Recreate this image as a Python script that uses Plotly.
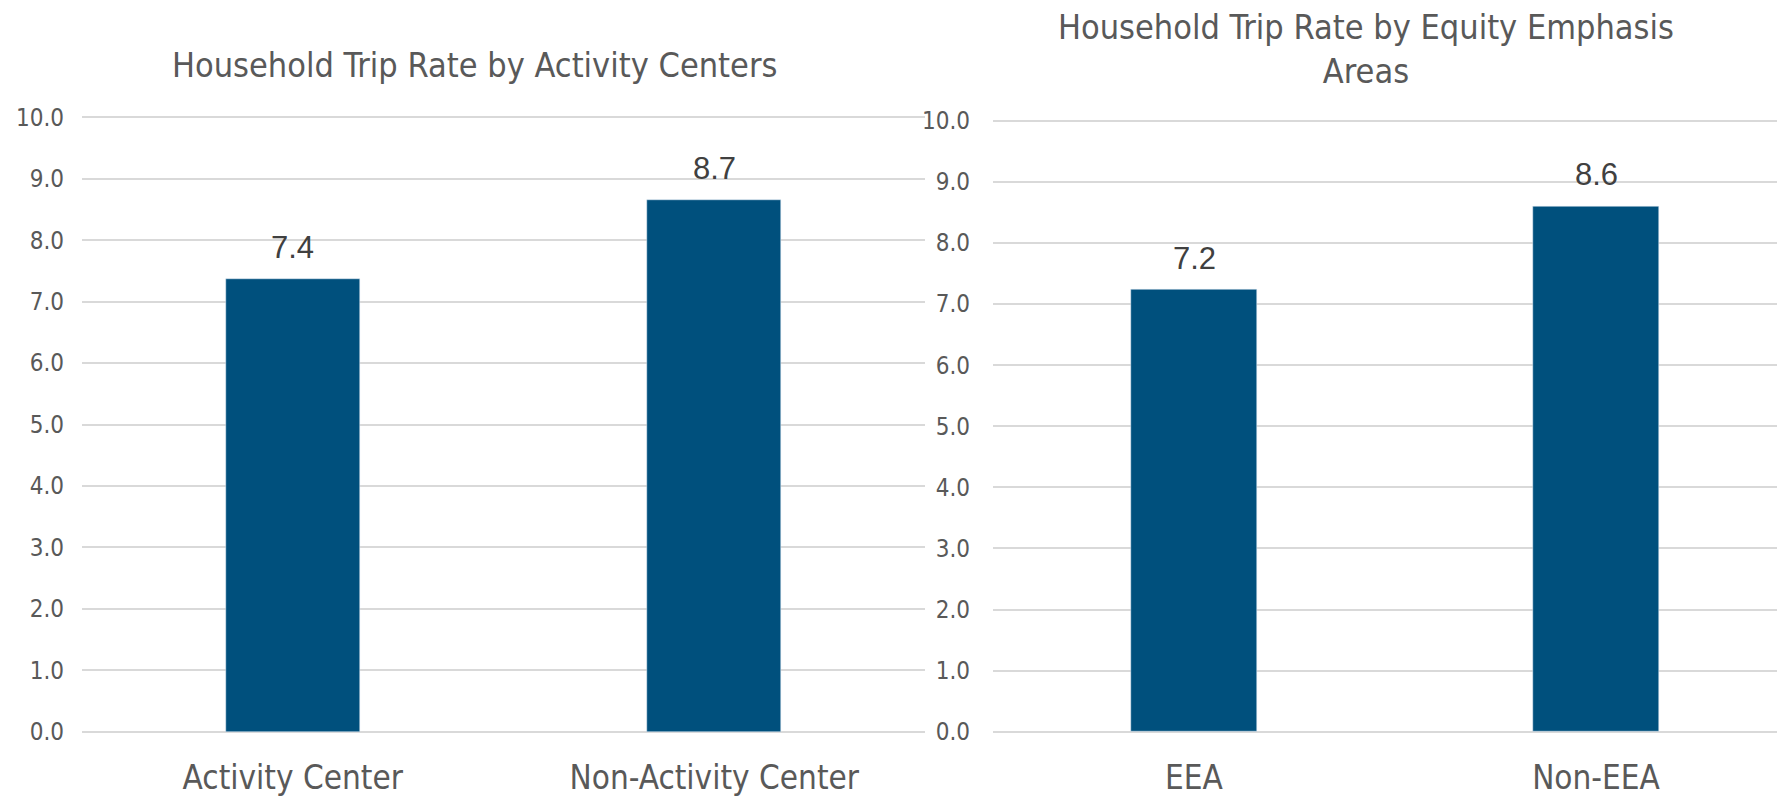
import plotly.graph_objects as go

# Data
ac_categories = ["Activity Center", "Non-Activity Center"]
ac_values = [7.36, 8.66]
eea_categories = ["EEA", "Non-EEA"]
eea_values = [7.23, 8.60]
y_ticks = [0, 1, 2, 3, 4, 5, 6, 7, 8, 9, 10]
title_left = "Household Trip Rate by Activity Centers"
title_right = "Household Trip Rate by Equity Emphasis<br>Areas"

BAR = "#00507D"
GREY = "#595959"
GRID = "#D9D9D9"
NARROW = "Liberation Sans Narrow, DejaVu Sans Condensed, Arial Narrow, sans-serif"
W, H = 1785, 796
OFF = 8  # page body margin offset

fig = go.Figure()
fig.add_trace(go.Bar(x=ac_categories, y=ac_values, marker_color=BAR, width=0.318,
                     xaxis="x", yaxis="y", showlegend=False, hoverinfo="skip"))
fig.add_trace(go.Bar(x=eea_categories, y=eea_values, marker_color=BAR, width=0.313,
                     xaxis="x2", yaxis="y2", showlegend=False, hoverinfo="skip"))

annotations = []
for cats, vals, xr, yr in [(ac_categories, ac_values, "x", "y"), (eea_categories, eea_values, "x2", "y2")]:
    for c, v in zip(cats, vals):
        annotations.append(dict(x=c, y=v, xref=xr, yref=yr, text=f"{v:.1f}", showarrow=False,
                                yanchor="bottom", yshift=12,
                                font=dict(family="Liberation Sans, Arial, sans-serif", size=31, color="#404040")))

annotations.append(dict(x=(474 - OFF) / W, y=1 - (65 - OFF) / H, xref="paper", yref="paper", text=title_left,
                        showarrow=False, xanchor="center", yanchor="middle",
                        font=dict(family=NARROW, size=34, color=GREY)))
annotations.append(dict(x=(1366 - OFF) / W, y=1 - (49 - OFF) / H, xref="paper", yref="paper", text=title_right,
                        showarrow=False, xanchor="center", yanchor="middle", borderpad=0,
                        font=dict(family=NARROW, size=34, color=GREY)))

yaxis_common = dict(range=[-0.02, 10.02], tickvals=y_ticks, tickformat=".1f", showgrid=True,
                    gridcolor=GRID, gridwidth=1.5, zeroline=False, showline=False, ticks="",
                    tickfont=dict(family=NARROW, size=24, color=GREY), fixedrange=True,
                    automargin=False)
xaxis_common = dict(showgrid=False, zeroline=False, showline=False, ticks="",
                    tickfont=dict(family=NARROW, size=33, color=GREY), fixedrange=True,
                    automargin=False)

fig.update_layout(
    width=W, height=H,
    margin=dict(l=0, r=0, t=0, b=0),
    paper_bgcolor="white", plot_bgcolor="white",
    xaxis=dict(domain=[(82 - OFF) / W, (925 - OFF) / W], range=[-0.5, 1.5], anchor="y",
               ticklabelstandoff=22, **xaxis_common),
    yaxis=dict(domain=[1 - (733 - OFF) / H, 1 - (116 - OFF) / H], anchor="x", ticklabelstandoff=17,
               **yaxis_common),
    xaxis2=dict(domain=[(993 - OFF) / W, 1.0], range=[-0.5, 1.49], anchor="y2",
                ticklabelstandoff=22, **xaxis_common),
    yaxis2=dict(domain=[1 - (733 - OFF) / H, 1 - (119.5 - OFF) / H], anchor="x2", ticklabelstandoff=22,
                **yaxis_common),
    annotations=annotations,
    bargap=0,
)

fig.write_html("out.html")
